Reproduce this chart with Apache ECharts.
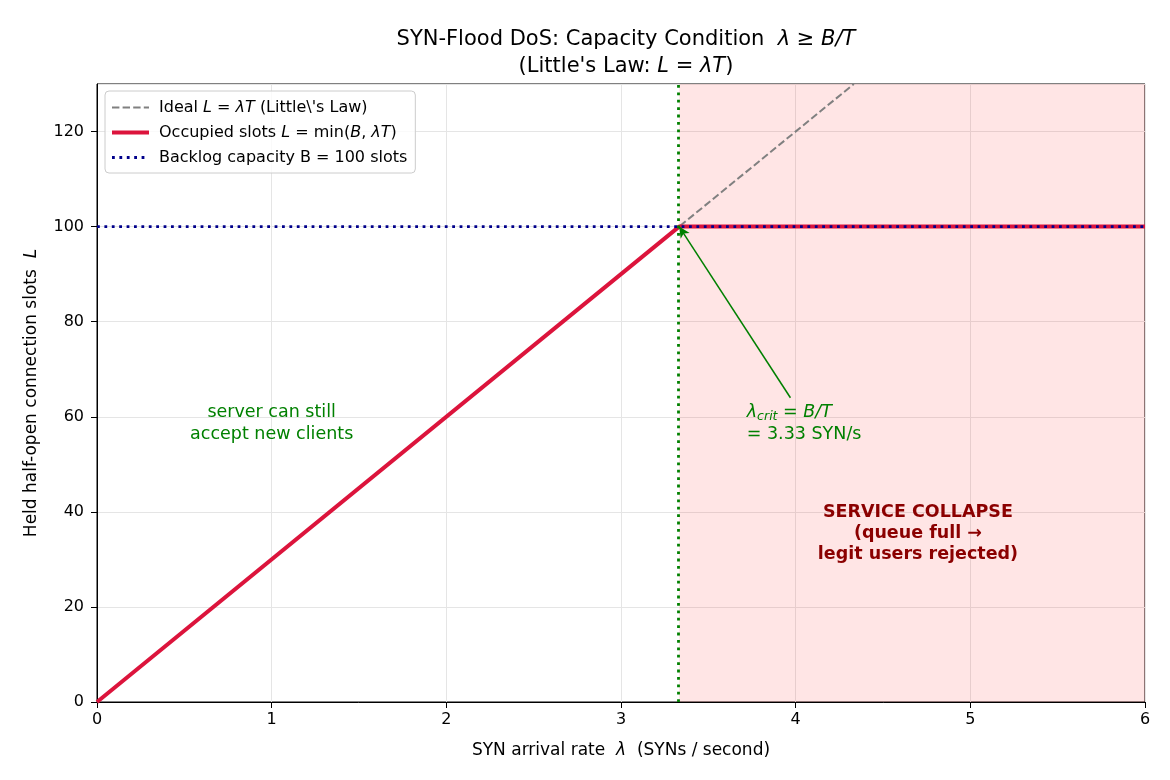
<!DOCTYPE html>
<html>
<head>
<meta charset="utf-8">
<script src="https://cdn.jsdelivr.net/npm/echarts@6/dist/echarts.min.js"></script>
<style>
  html, body { margin: 0; padding: 0; background: #fff; }
  #main { width: 1170px; height: 780px; }
</style>
</head>
<body>
<div id="main"></div>
<script>
// ---- data ----
var idealX = [0, 4.333];          // L = lambda*T, T = 30 s
var idealY = [0, 130];
var occX = [0, 3.333, 6];         // L = min(B, lambda*T)
var occY = [0, 100, 100];
var backlogX = [0, 6];
var backlogY = [100, 100];
var critLambda = 3.333;           // B/T
var arrowFrom = [3.97, 64];
var arrowTo = [3.333, 100];
var xTicks = [0, 1, 2, 3, 4, 5, 6];
var yTicks = [0, 20, 40, 60, 80, 100, 120];

var FONT = 'DejaVu Sans';
var GREEN = '#008000';
var DASH = [7.4, 3.2];
var DOT = [2.8, 4.6];

function pairs(xs, ys) {
	var out = [];
	for (var i = 0; i < xs.length; i++) out.push([xs[i], ys[i]]);
	return out;
}

var legendNames = {
	ideal: 'Ideal {i|L} = {i|λT} (Little\\\'s Law)',
	occ: 'Occupied slots {i|L} = min({i|B}, {i|λT})',
	backlog: 'Backlog capacity B = 100 slots'
};

var myChart = echarts.init(document.getElementById('main'));

var option = {
	backgroundColor: '#fff',
	animation: false,
	textStyle: { fontFamily: FONT },
	title: {
		text: 'SYN-Flood DoS: Capacity Condition  {i|λ} ≥ {i|B/T}\n(Little\'s Law: {i|L} = {i|λT})',
		left: 621,
		textAlign: 'center',
		top: 21,
		textStyle: {
			fontFamily: FONT, fontSize: 21, fontWeight: 'normal', color: '#000', lineHeight: 27,
			rich: { i: { fontFamily: FONT, fontSize: 21, fontStyle: 'italic', color: '#000', lineHeight: 27 } }
		}
	},
	legend: {
		orient: 'vertical',
		left: 105,
		top: 91,
		padding: [8, 8, 7, 5],
		itemWidth: 37,
		itemHeight: 14,
		itemGap: 8,
		backgroundColor: 'rgba(255,255,255,0.8)',
		borderColor: '#cccccc',
		borderWidth: 1,
		borderRadius: 4,
		itemStyle: { opacity: 0 },
		data: [
			{ name: 'ideal', lineStyle: { width: 2, color: '#808080', type: DASH } },
			{ name: 'occ', lineStyle: { width: 4, color: '#dc143c', type: 'solid' } },
			{ name: 'backlog', lineStyle: { width: 2.8, color: '#00008b', type: DOT } }
		],
		formatter: function (name) { return legendNames[name]; },
		textStyle: {
			fontFamily: FONT, fontSize: 16, color: '#000', padding: [0, 0, 0, 5], lineHeight: 17,
			rich: { i: { fontFamily: FONT, fontSize: 16, fontStyle: 'italic', color: '#000', lineHeight: 17 } }
		}
	},
	grid: { left: 97, right: 25, top: 84, bottom: 78, show: true, borderColor: '#000', borderWidth: 1 },
	xAxis: {
		type: 'value',
		min: 0, max: 6, interval: 1,
		name: 'SYN arrival rate  {i|λ}  (SYNs / second)',
		nameLocation: 'middle',
		nameGap: 40,
		nameTextStyle: {
			fontFamily: FONT, fontSize: 17, color: '#000',
			rich: { i: { fontFamily: FONT, fontSize: 17, fontStyle: 'italic', color: '#000' } }
		},
		axisLine: { show: true, onZero: false, lineStyle: { color: '#000', width: 1 } },
		axisTick: { show: true, length: 6, lineStyle: { color: '#000' } },
		axisLabel: { fontFamily: FONT, fontSize: 16, color: '#000', margin: 10,
			formatter: function (v) { return xTicks.indexOf(v) >= 0 ? String(v) : ''; } },
		splitLine: { show: true, lineStyle: { color: '#e5e5e5', width: 1 } }
	},
	yAxis: {
		type: 'value',
		min: 0, max: 130, interval: 20,
		name: 'Held half-open connection slots  {i|L}',
		nameLocation: 'middle',
		nameGap: 57,
		nameTextStyle: {
			fontFamily: FONT, fontSize: 17, color: '#000',
			rich: { i: { fontFamily: FONT, fontSize: 17, fontStyle: 'italic', color: '#000' } }
		},
		axisLine: { show: true, onZero: false, lineStyle: { color: '#000', width: 1 } },
		axisTick: { show: true, length: 6, lineStyle: { color: '#000' } },
		axisLabel: { fontFamily: FONT, fontSize: 16, color: '#000', margin: 13, showMaxLabel: false,
			formatter: function (v) { return yTicks.indexOf(v) >= 0 ? String(v) : ''; } },
		splitLine: { show: true, lineStyle: { color: '#e5e5e5', width: 1 } }
	},
	series: [
		{
			name: 'shade',
			type: 'line',
			data: [],
			silent: true,
			z: 1,
			markArea: {
				silent: true,
				itemStyle: { color: 'rgba(255,0,0,0.1)' },
				data: [[{ xAxis: critLambda }, { xAxis: 6 }]]
			}
		},
		{
			name: 'ideal',
			type: 'line',
			data: pairs(idealX, idealY),
			symbol: 'none',
			z: 2,
			color: '#808080',
			lineStyle: { color: '#808080', width: 2, type: DASH }
		},
		{
			name: 'occ',
			type: 'line',
			data: pairs(occX, occY),
			symbol: 'none',
			z: 3,
			color: '#dc143c',
			lineStyle: { color: '#dc143c', width: 4 }
		},
		{
			name: 'backlog',
			type: 'line',
			data: pairs(backlogX, backlogY),
			symbol: 'none',
			z: 4,
			color: '#00008b',
			lineStyle: { color: '#00008b', width: 2.8, type: DOT }
		},
		{
			name: 'crit',
			type: 'line',
			data: [],
			z: 5,
			markLine: {
				silent: true,
				animation: false,
				label: { show: false },
				symbol: ['none', 'none'],
				lineStyle: { color: GREEN, width: 2.8, type: DOT },
				data: [
					{ xAxis: critLambda },
					[
						{ coord: arrowFrom, symbol: 'none', lineStyle: { type: 'solid', width: 1.5, color: GREEN } },
						{ coord: arrowTo, symbol: 'arrow', symbolSize: [8, 11], lineStyle: { type: 'solid', width: 1.5, color: GREEN } }
					]
				]
			},
			markPoint: {
				silent: true,
				symbol: 'circle',
				symbolSize: 0,
				data: [
					{
						coord: [1.0, 58.5],
						label: {
							show: true, position: [0, 0], align: 'center', verticalAlign: 'middle',
							fontFamily: FONT, fontSize: 17.5, color: GREEN, lineHeight: 22,
							formatter: 'server can still\naccept new clients'
						}
					},
					{
						coord: [3.72, 58.5],
						label: {
							show: true, position: [0, 0], align: 'left', verticalAlign: 'middle',
							fontFamily: FONT, fontSize: 17.5, color: GREEN, lineHeight: 22,
							formatter: '{i|λ}{s|crit}{n| = }{i|B/T}\n= 3.33 SYN/s',
							rich: {
								i: { fontFamily: FONT, fontSize: 17.5, fontStyle: 'italic', color: GREEN },
								s: { fontFamily: FONT, fontSize: 12.5, fontStyle: 'italic', color: GREEN, padding: [7, 0, 0, 0] },
								n: { fontFamily: FONT, fontSize: 17.5, color: GREEN }
							}
						}
					},
					{
						coord: [4.7, 35.4],
						label: {
							show: true, position: [0, 0], align: 'center', verticalAlign: 'middle',
							fontFamily: FONT, fontSize: 17.5, fontWeight: 'bold', color: '#8b0000', lineHeight: 21,
							formatter: 'SERVICE COLLAPSE\n(queue full →\nlegit users rejected)'
						}
					}
				]
			}
		}
	]
};

myChart.setOption(option);
</script>
</body>
</html>
